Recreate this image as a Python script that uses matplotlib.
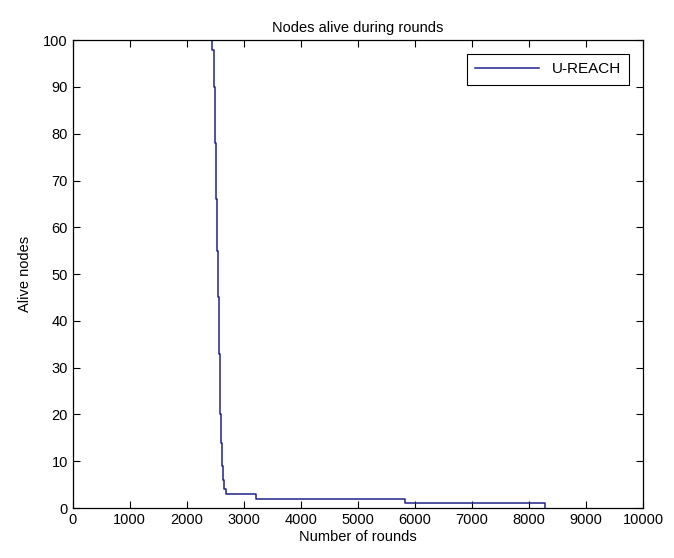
import matplotlib
matplotlib.use("Agg")
import matplotlib.pyplot as plt

# Số nút còn sống theo số vòng
rounds = [0, 2440, 2450, 2470, 2490, 2510, 2530, 2545, 2560, 2580, 2600,
          2620, 2640, 2660, 2680, 2700, 3210, 5830, 8290]
alive = [100, 100, 98, 90, 78, 66, 55, 45, 33, 20, 14,
         9, 6, 4, 3, 3, 2, 1, 0]
xticks = list(range(0, 10001, 1000))
yticks = list(range(0, 101, 10))

plt.rcParams['font.family'] = ['Liberation Sans', 'DejaVu Sans']

fig = plt.figure(figsize=(6.74, 5.58), dpi=100)
ax = fig.add_axes([0.108, 0.0896, 0.846, 0.8384])

ax.step(rounds, alive, where='post', color='#22228a', linewidth=1.1, label='U-REACH')

ax.set_xlim(0, 10000)
ax.set_ylim(0, 100)
ax.set_xticks(xticks)
ax.set_yticks(yticks)
ax.tick_params(direction='in', top=True, right=True, labelsize=10.5, length=5, width=0.8)
for s in ax.spines.values():
    s.set_linewidth(0.9)

ax.set_title("Nodes alive during rounds", fontsize=10.5, pad=6)
ax.set_xlabel("Number of rounds", fontsize=10.5, labelpad=2)
ax.set_ylabel("Alive nodes", fontsize=10.5, labelpad=8)

leg = ax.legend(loc='upper right', fancybox=False, edgecolor='black', fontsize=11,
                handlelength=4.2, borderaxespad=0.9, borderpad=0.55, framealpha=1)
leg.get_frame().set_linewidth(0.8)

fig.savefig("out.png", dpi=100)
